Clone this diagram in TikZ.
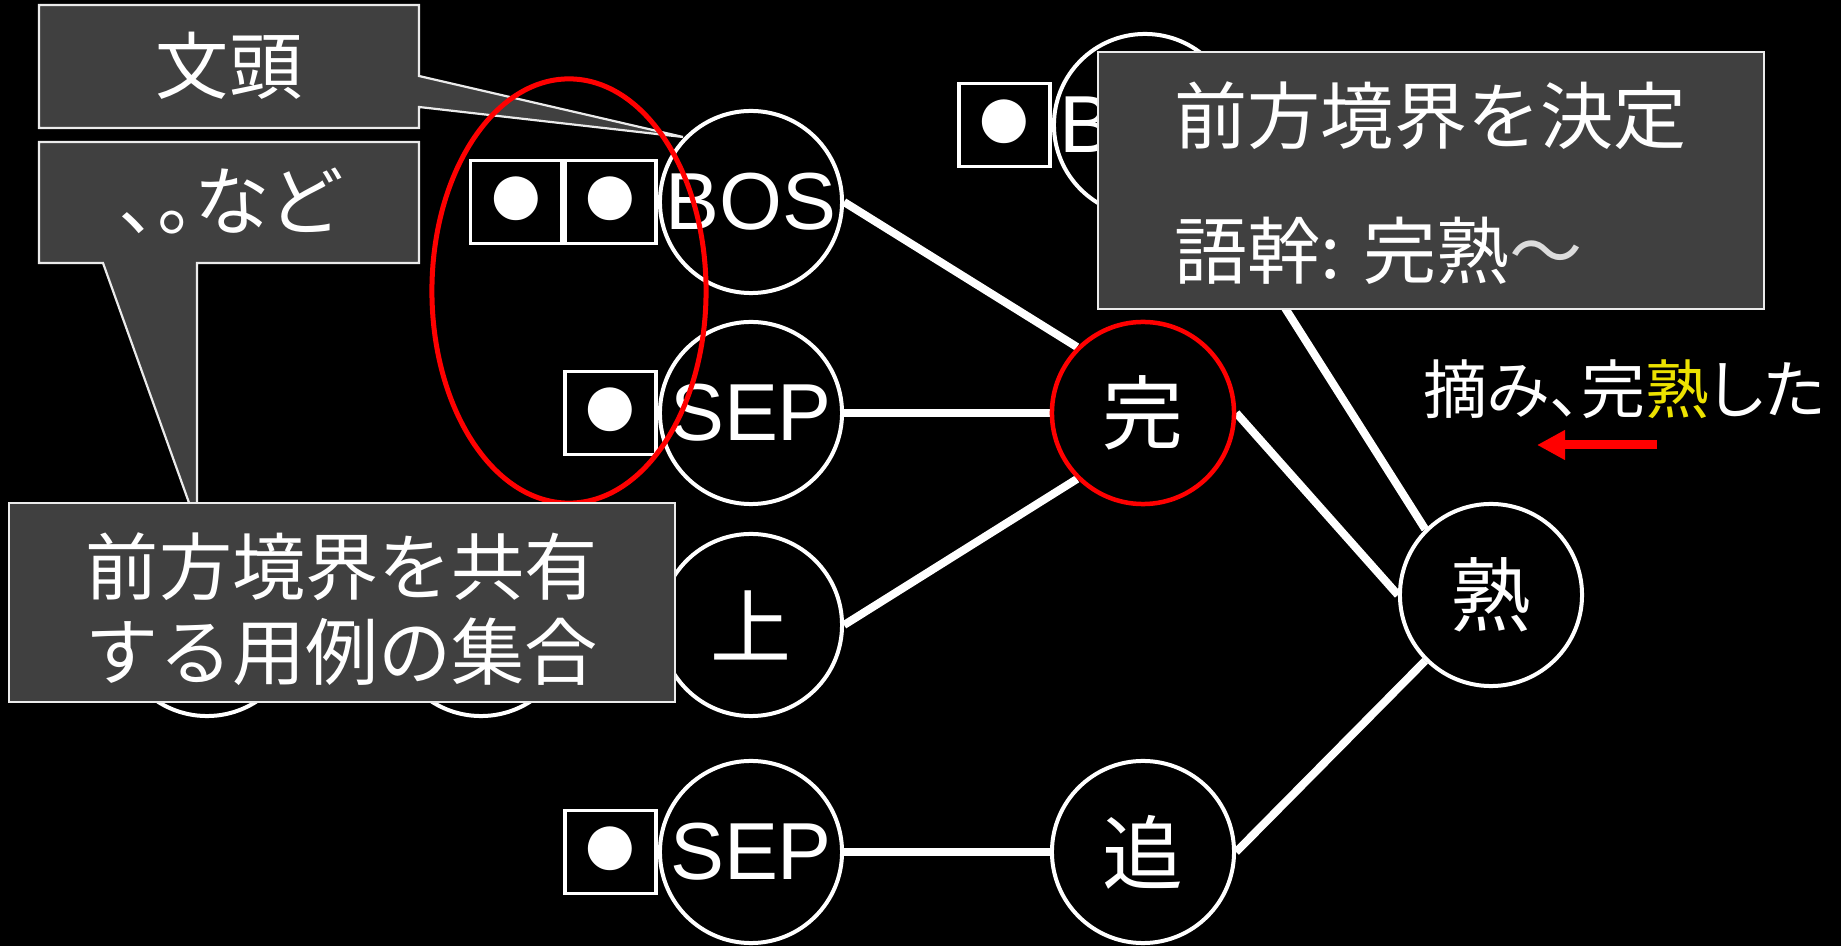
\documentclass[tikz,border=0pt]{standalone}
\usepackage{fontspec}
\setmainfont{Liberation Sans}
\newfontfamily\jpfont{Noto Sans CJK JP}
\newfontfamily\jppfont[RawFeature=+palt]{Noto Sans CJK JP}
\usetikzlibrary{arrows.meta}
\pgfdeclarelayer{backdrop}
\pgfdeclarelayer{bg}
\pgfsetlayers{backdrop,bg,main}
\definecolor{boxgray}{RGB}{64,64,64}
\definecolor{boxline}{RGB}{235,235,235}
\definecolor{jukuyellow}{RGB}{236,226,0}
\definecolor{tildegray}{RGB}{220,220,220}
\begin{document}
\begin{tikzpicture}[x=0.01cm,y=-0.01cm,
  nodec/.style={circle, draw=white, line width=0.04cm, fill=black, minimum size=1.82cm, inner sep=0pt, text=white, font=\fontsize{23}{23}\selectfont},
  jpc/.style={nodec, font=\jpfont\fontsize{23}{23}\selectfont},
  bulletbox/.style={draw=white, line width=0.035cm, minimum width=0.91cm, minimum height=0.83cm, inner sep=0pt, text=white, font=\fontsize{29}{29}\selectfont},
  conn/.style={white, line width=0.08cm},
  callout/.style={fill=boxgray, draw=boxline, line width=0.022cm},
  calltext/.style={text=white, inner sep=0pt, font=\jpfont\fontsize{20.8}{24.2}\selectfont}
]
\begin{pgfonlayer}{backdrop}
\fill[black] (0,0) rectangle (1841,946);
\end{pgfonlayer}
\useasboundingbox (0,0) rectangle (1841,946);

% hidden circles behind the big callout
\node[nodec] (h1) at (207,625) {};
\node[nodec] (h2) at (481,625) {};

% main nodes
\node[nodec] (bos) at (751,202) {BOS};
\node[nodec] (sep1) at (751,413) {SEP};
\node[jpc] (ue) at (751,625) {上};
\node[nodec] (sep2) at (751,852) {SEP};
\node[jpc, draw=red, line width=0.045cm] (kan) at (1143,413) {完};
\node[jpc] (oi) at (1143,852) {追};
\node[jpc] (juku) at (1491,595) {熟};
\node[nodec] (topb) at (1145,125) {BOS};

% bullet boxes
\node[bulletbox, anchor=east] (b2) at (bos.west) {●};
\node[bulletbox, anchor=east] (b1) at (b2.west) {●};
\node[bulletbox, anchor=east] (b3) at (sep1.west) {●};
\node[bulletbox, anchor=east] (b4) at (sep2.west) {●};
\node[bulletbox, anchor=east] (b5) at (topb.west) {●};

% connectors
\begin{pgfonlayer}{bg}
\draw[conn] (bos.east) -- (kan.north west);
\draw[conn] (sep1.east) -- (kan.west);
\draw[conn] (ue.east) -- (kan.south west);
\draw[conn] (sep2.east) -- (oi.west);
\draw[conn] (kan.east) -- (juku.west);
\draw[conn] (oi.east) -- (juku.south west);
\draw[conn] (topb.south east) -- (juku.north west);
\end{pgfonlayer}

% callout: 文頭
\coordinate (tip1) at (683,137);
\draw[callout] (39,5) -- (419,5) -- (419,76) -- (tip1) -- (419,107) -- (419,128) -- (39,128) -- cycle;
\node[calltext] (t1) at (229,66) {文頭};

% callout: 、。など
\coordinate (tip2) at (197,525);
\draw[callout] (39,142) -- (419,142) -- (419,263) -- (197,263) -- (tip2) -- (103,263) -- (39,263) -- cycle;
\node[calltext, font=\jppfont\fontsize{21.5}{24.2}\selectfont] (t2) at (229,201) {、。など};

% red ellipse (drawn over callout pointer)
\draw[red, line width=0.05cm] (569,291) ellipse [x radius=1.37cm, y radius=2.12cm];

% big callout
\draw[callout] (9,503) rectangle (675,702);
\node[calltext, align=center] (t3) at (342,609) {前方境界を共有\\する用例の集合};

% top callout
\draw[callout] (1098,52) rectangle (1764,309);
\node[calltext, align=left, anchor=west, font=\jpfont\fontsize{20.8}{38.4}\selectfont] (t4) at (1174,183) {前方境界を決定\\語幹: 完熟\textcolor{tildegray}{～}};

% example sentence and arrow
\node[text=white, inner sep=0pt, font=\jppfont\fontsize{18.2}{18.2}\selectfont] (ex) at (1624,389) {摘み、完\textcolor{jukuyellow}{熟}した};
\coordinate (arrs) at (1657,445);
\coordinate (arre) at (1537,445);
\draw[red, line width=0.09cm, -{Triangle[length=0.28cm,width=0.28cm]}] (arrs) -- (arre);
\end{tikzpicture}
\end{document}
